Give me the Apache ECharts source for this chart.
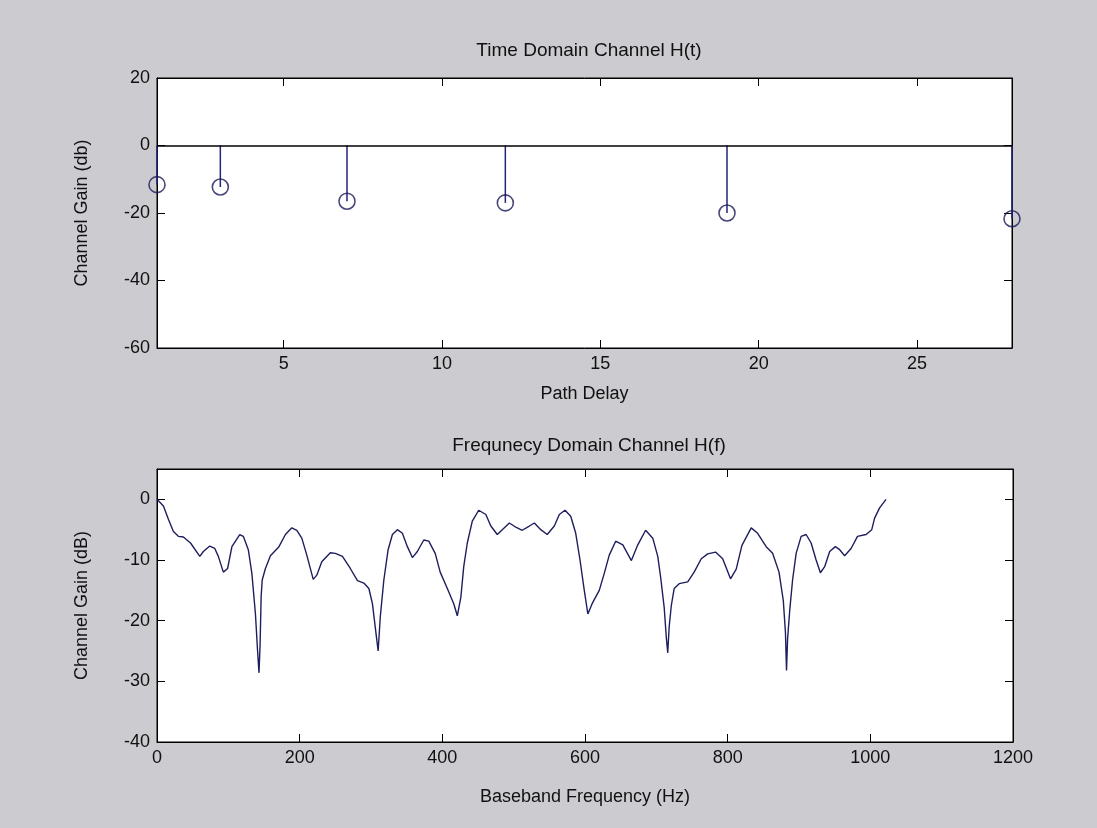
<!DOCTYPE html>
<html>
<head>
<meta charset="utf-8">
<script src="https://cdn.jsdelivr.net/npm/echarts@6/dist/echarts.min.js"></script>
<style>
  html, body { margin: 0; padding: 0; background: #cbcbd0; }
  #chart { width: 1097px; height: 828px; }
</style>
</head>
<body>
<div id="chart"></div>
<script>
// time domain taps
const delayTaps = [1, 3, 7, 12, 19, 28];
const tapGainDb = [-11.6, -12.3, -16.5, -17, -20, -21.7];
const delayTicks = [5, 10, 15, 20, 25];

// frequency domain response
const freqHz = [0, 9, 16, 23, 30, 37, 47, 60, 65, 74, 81, 86, 93, 99, 105, 116, 121, 128, 133, 138, 141, 143, 144.5, 146, 147.5,
  152, 159, 171, 180, 189, 196, 203, 210, 219, 224, 231, 243, 250, 260, 271, 281, 290, 297, 302, 306, 310, 313, 318,
  324, 330, 337, 344, 351, 358, 365, 374, 381, 390, 397, 407, 416, 421, 426, 430, 435, 442, 451, 461, 468, 477, 484,
  494, 503, 512, 522, 529, 538, 547, 557, 564, 572, 580, 587, 593, 599, 604, 610, 620, 627, 634, 643, 653, 665, 674,
  685, 695, 702, 706, 711, 714, 716, 718, 721, 725, 732, 744, 753, 763, 772, 783, 793, 804, 812, 820, 833, 842, 854,
  863, 872, 878, 881, 882.5, 884, 887, 891, 896, 903, 910, 917, 924, 930, 936, 943, 951, 957, 964, 973, 982, 994,
  1002, 1006, 1013, 1022];
const freqGainDb = [0, -1.1, -3.3, -5.3, -6.1, -6.2, -7.2, -9.4, -8.6, -7.7, -8.1, -9.4, -12, -11.4, -7.8, -5.8, -6.1, -8.3, -12.2, -18.9, -25, -28.6, -24, -16, -13.3,
  -11.4, -9.3, -7.8, -5.8, -4.7, -5.1, -6.4, -9.2, -13.2, -12.5, -10.3, -8.8, -8.9, -9.4, -11.4, -13.4, -13.8, -14.7, -17.2, -21.1, -25, -19.4, -13.3,
  -8.3, -5.8, -5, -5.6, -7.8, -9.6, -8.6, -6.7, -6.9, -8.9, -12, -14.7, -17.2, -19.2, -16.1, -11.1, -7.2, -3.6, -1.8, -2.5, -4.4, -5.8, -5,
  -3.9, -4.6, -5.1, -4.4, -3.9, -5, -5.8, -4.4, -2.5, -1.8, -2.8, -5.6, -10, -15, -18.9, -17.2, -15, -12.2, -9.2, -6.9, -7.5, -10.1, -7.5,
  -5.1, -6.4, -9.4, -12.8, -17.8, -22.8, -25.3, -21, -17.5, -14.7, -13.9, -13.6, -12, -9.8, -9, -8.7, -9.8, -13.1, -11.5, -7.6, -4.7, -5.6, -7.8,
  -8.9, -12, -16.7, -22, -28.2, -23, -18.3, -13.3, -8.9, -6.1, -5.8, -7.2, -10, -12.1, -11.1, -8.6, -7.8, -8.3, -9.3, -8.1, -6.1, -5.8,
  -5, -3.1, -1.4, 0];
const gainTicks = [-40, -30, -20, -10, 0];

const FONT = "'Liberation Sans', Arial, sans-serif";
const TXT = '#111';
const LINE = '#1e1e5e';

const tapPoints = delayTaps.map((d, i) => [d, tapGainDb[i]]);
const freqPoints = freqHz.map((f, i) => [f, freqGainDb[i]]);

const chart = echarts.init(document.getElementById('chart'));

const boxAxis = (extra) => Object.assign({
  axisLine: { show: true, onZero: false, lineStyle: { color: '#000', width: 1 } },
  axisTick: { show: true, inside: true, length: 8, lineStyle: { color: '#000', width: 1 } },
  splitLine: { show: false },
  axisLabel: { show: false },
}, extra);

const labelStyle = { show: true, color: TXT, fontFamily: FONT, fontSize: 18, margin: 7, formatter: v => String(v) };
const nameStyle = { color: TXT, fontFamily: FONT, fontSize: 18 };
const titleStyle = { color: TXT, fontFamily: FONT, fontSize: 19, fontWeight: 'normal' };

const option = {
  backgroundColor: '#cbcbd0',
  animation: false,
  title: [
    { text: 'Time Domain Channel H(t)', left: 584, top: 36, textAlign: 'center', textStyle: titleStyle },
    { text: 'Frequnecy Domain Channel H(f)', left: 584, top: 431, textAlign: 'center', textStyle: titleStyle },
  ],
  grid: [
    { left: 157, top: 78, width: 855, height: 270, show: true, backgroundColor: '#fff', borderColor: '#000', borderWidth: 1 },
    { left: 157, top: 469, width: 856, height: 273, show: true, backgroundColor: '#fff', borderColor: '#000', borderWidth: 1 },
  ],
  xAxis: [
    boxAxis({
      type: 'value', gridIndex: 0, min: 1, max: 28, position: 'bottom',
      axisTick: { show: true, inside: true, length: 8, customValues: delayTicks, lineStyle: { color: '#000' } },
      axisLabel: Object.assign({}, labelStyle, { customValues: delayTicks }),
      name: 'Path Delay', nameLocation: 'middle', nameGap: 37, nameTextStyle: nameStyle,
    }),
    boxAxis({
      type: 'value', gridIndex: 0, min: 1, max: 28, position: 'top',
      axisTick: { show: true, inside: true, length: 8, customValues: delayTicks, lineStyle: { color: '#000' } },
    }),
    boxAxis({
      type: 'value', gridIndex: 1, min: 0, max: 1200, interval: 200, position: 'bottom',
      axisLabel: labelStyle,
      name: 'Baseband Frequency (Hz)', nameLocation: 'middle', nameGap: 46, nameTextStyle: nameStyle,
    }),
    boxAxis({ type: 'value', gridIndex: 1, min: 0, max: 1200, interval: 200, position: 'top' }),
  ],
  yAxis: [
    boxAxis({
      type: 'value', gridIndex: 0, min: -60, max: 20, interval: 20, position: 'left',
      axisLabel: labelStyle,
      name: 'Channel Gain (db)', nameLocation: 'middle', nameGap: 66, nameTextStyle: nameStyle,
    }),
    boxAxis({ type: 'value', gridIndex: 0, min: -60, max: 20, interval: 20, position: 'right' }),
    boxAxis({
      type: 'value', gridIndex: 1, min: -40, max: 5, position: 'left',
      axisTick: { show: true, inside: true, length: 8, customValues: gainTicks, lineStyle: { color: '#000' } },
      axisLabel: Object.assign({}, labelStyle, { customValues: gainTicks }),
      name: 'Channel Gain (dB)', nameLocation: 'middle', nameGap: 66, nameTextStyle: nameStyle,
    }),
    boxAxis({
      type: 'value', gridIndex: 1, min: -40, max: 5, position: 'right',
      axisTick: { show: true, inside: true, length: 8, customValues: gainTicks, lineStyle: { color: '#000' } },
    }),
  ],
  series: [
    {
      // stems from zero down to each tap
      type: 'custom',
      xAxisIndex: 0, yAxisIndex: 0,
      data: tapPoints,
      renderItem: (params, api) => {
        const p0 = api.coord([api.value(0), 0]);
        const p1 = api.coord([api.value(0), api.value(1)]);
        return {
          type: 'line',
          shape: { x1: p0[0], y1: p0[1], x2: p1[0], y2: p1[1] },
          style: { stroke: '#24247a', lineWidth: 1.5 },
        };
      },
      z: 2,
    },
    {
      type: 'scatter',
      xAxisIndex: 0, yAxisIndex: 0,
      data: tapPoints,
      symbol: 'circle',
      symbolSize: 16,
      itemStyle: { color: 'rgba(0,0,0,0)', borderColor: '#1a1a5a', borderWidth: 1.6 },
      markLine: {
        silent: true, symbol: 'none', label: { show: false },
        lineStyle: { color: '#000', width: 1.5, type: 'solid' },
        data: [{ yAxis: 0 }],
      },
      z: 3,
    },
    {
      type: 'line',
      xAxisIndex: 2, yAxisIndex: 2,
      data: freqPoints,
      showSymbol: false,
      lineStyle: { color: LINE, width: 1.4 },
      z: 2,
    },
  ],
};

chart.setOption(option);
window.addEventListener('resize', () => chart.resize());
</script>
</body>
</html>
